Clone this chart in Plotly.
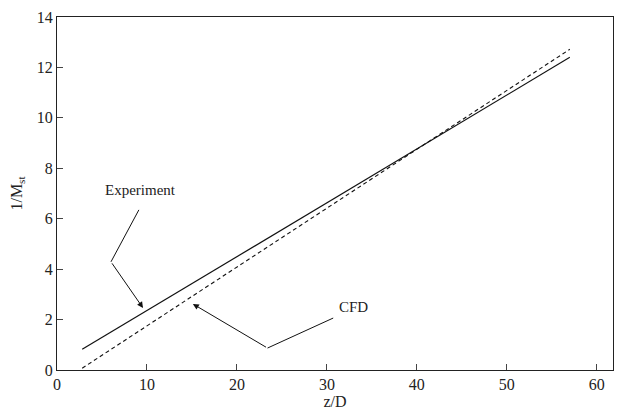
import plotly.graph_objects as go

exp_z = [2.8, 20.0, 40.0, 57.0]
exp_y = [0.82, 4.5, 8.76, 12.4]
cfd_z = [2.8, 20.0, 40.0, 57.0]
cfd_y = [0.07, 4.08, 8.74, 12.72]

x_ticks = [0, 10, 20, 30, 40, 50, 60]
y_ticks = [0, 2, 4, 6, 8, 10, 12, 14]

font = dict(family="Liberation Serif, Times New Roman, serif", size=16, color="#222")

fig = go.Figure()
fig.add_trace(go.Scatter(x=exp_z, y=exp_y, mode="lines", name="Experiment",
                         line=dict(color="#111", width=1.2)))
fig.add_trace(go.Scatter(x=cfd_z, y=cfd_y, mode="lines", name="CFD",
                         line=dict(color="#111", width=1.1, dash="4px,3px")))

# leader lines
fig.add_shape(type="line", x0=9.1, y0=6.35, x1=6.0, y1=4.29, xref="x", yref="y",
              line=dict(color="#111", width=1))
fig.add_shape(type="line", x0=30.7, y0=2.06, x1=23.4, y1=0.87, xref="x", yref="y",
              line=dict(color="#111", width=1))
fig.add_annotation(x=9.56, y=2.46, ax=6.0, ay=4.29, axref="x", ayref="y", xref="x", yref="y",
                   text="", showarrow=True, arrowhead=2, arrowsize=1.2, arrowwidth=1,
                   arrowcolor="#111")
fig.add_annotation(x=15.1, y=2.62, ax=23.4, ay=0.87, axref="x", ayref="y", xref="x", yref="y",
                   text="", showarrow=True, arrowhead=2, arrowsize=1.2, arrowwidth=1,
                   arrowcolor="#111")
fig.add_annotation(x=9.3, y=7.15, text="Experiment", showarrow=False, xref="x", yref="y",
                   font=dict(family=font["family"], size=15, color="#222"))
fig.add_annotation(x=33.0, y=2.5, text="CFD", showarrow=False, xref="x", yref="y",
                   font=dict(family=font["family"], size=15, color="#222"))

fig.update_layout(
    width=619, height=405,
    margin=dict(l=49, r=14, t=9, b=43),
    paper_bgcolor="white", plot_bgcolor="white",
    showlegend=False,
    font=font,
    xaxis=dict(range=[0, 61.8], tickvals=x_ticks, ticks="inside", ticklen=6,
               showline=True, linecolor="#222", linewidth=1.2, mirror=True,
               showgrid=False, zeroline=False, automargin=False,
               title=dict(text="z/D", standoff=0, font=font)),
    yaxis=dict(range=[0, 14], tickvals=y_ticks, ticks="inside", ticklen=6,
               showline=True, linecolor="#222", linewidth=1.2, mirror=True,
               showgrid=False, zeroline=False, automargin=False,
               title=dict(text="1/M<sub>st</sub>", standoff=12, font=font)),
)

fig.write_html("out.html")
